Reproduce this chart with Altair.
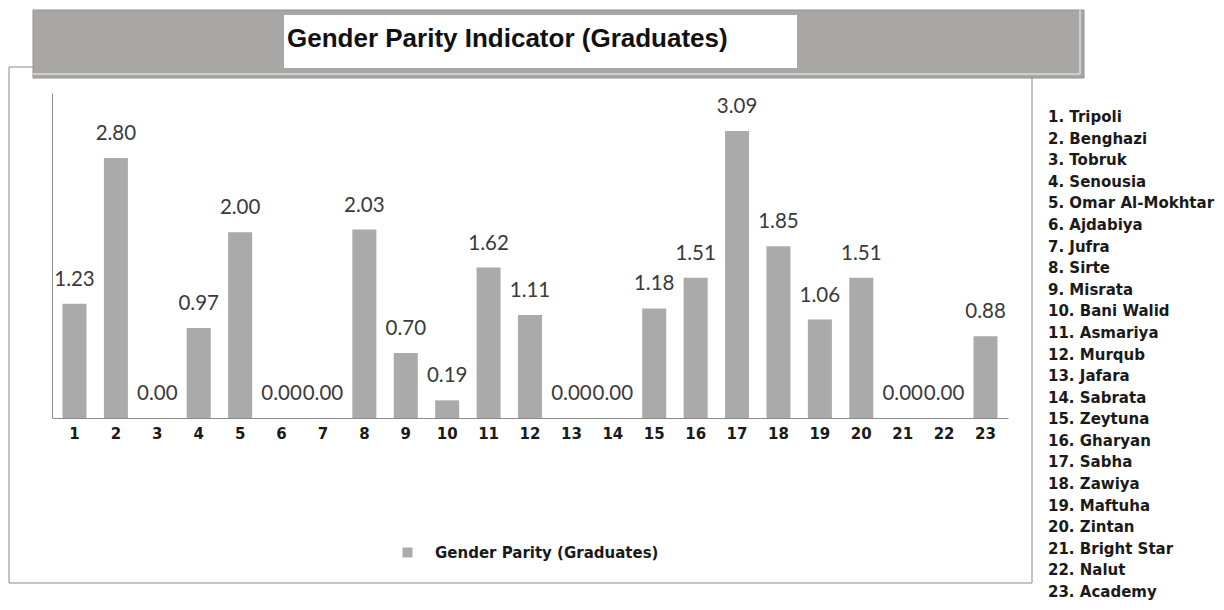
import altair as alt
import pandas as pd

# ---- data ----
codes = ["1", "2", "3", "4", "5", "6", "7", "8", "9", "10", "11", "12",
         "13", "14", "15", "16", "17", "18", "19", "20", "21", "22", "23"]
regions = ["Tripoli", "Benghazi", "Tobruk", "Senousia", "Omar Al-Mokhtar",
           "Ajdabiya", "Jufra", "Sirte", "Misrata", "Bani Walid", "Asmariya",
           "Murqub", "Jafara", "Sabrata", "Zeytuna", "Gharyan", "Sabha",
           "Zawiya", "Maftuha", "Zintan", "Bright Star", "Nalut", "Academy"]
parity = [1.23, 2.80, 0.00, 0.97, 2.00, 0.00, 0.00, 2.03, 0.70, 0.19, 1.62,
          1.11, 0.00, 0.00, 1.18, 1.51, 3.09, 1.85, 1.06, 1.51, 0.00, 0.00, 0.88]
series_name = "Gender Parity (Graduates)"
title_text = "Gender Parity Indicator (Graduates)"

list_labels = [f"{c}. {r}" for c, r in zip(codes, regions)]
df = pd.DataFrame({"code": codes, "parity": parity,
                   "series": [series_name] * len(codes),
                   "item": list_labels})
one = pd.DataFrame({"t": [title_text]})

BAR = "#aaaaaa"
BOLD_FONT = "DejaVu Sans"

# ---- decorations (frame, banner, title box) ----
frame = alt.Chart(one).mark_rect(fill="transparent", stroke="#8a8a8a", strokeWidth=1).encode(
    x=alt.value(-43), x2=alt.value(980), y=alt.value(-26), y2=alt.value(490))
banner = alt.Chart(one).mark_rect(fill="#a9a6a6", stroke="#929090", strokeWidth=1).encode(
    x=alt.value(-19), x2=alt.value(1032), y=alt.value(-83), y2=alt.value(-15))
bevel_b = alt.Chart(one).mark_rule(color="#cfcdcd", strokeWidth=2).encode(
    x=alt.value(-19), x2=alt.value(1028), y=alt.value(-19))
bevel_r = alt.Chart(one).mark_rule(color="#cfcdcd", strokeWidth=2).encode(
    x=alt.value(1028), y=alt.value(-83), y2=alt.value(-19))
title_box = alt.Chart(one).mark_rect(fill="white").encode(
    x=alt.value(232), x2=alt.value(745), y=alt.value(-78), y2=alt.value(-25))
title = alt.Chart(one).mark_text(align="left", baseline="alphabetic", font="Liberation Sans",
                                 fontSize=26, fontWeight="bold", color="#111111").encode(
    x=alt.value(235), y=alt.value(-46), text="t:N")

# ---- bars ----
x_enc = alt.X("code:N", sort=codes,
              scale=alt.Scale(paddingInner=0.42, paddingOuter=0.253),
              axis=alt.Axis(title=None, labelAngle=0, ticks=False, tickSize=0, labelPadding=8,
                            labelFont=BOLD_FONT, labelFontSize=15, labelFontWeight="bold",
                            labelColor="#1a1a1a", domainColor="#8c8c8c", grid=False))
y_enc = alt.Y("parity:Q", scale=alt.Scale(domain=[0, 3.5], nice=False),
              axis=alt.Axis(title=None, labels=False, ticks=False, grid=False,
                            domainColor="#8c8c8c"))

bars = alt.Chart(df).mark_bar().encode(
    x=x_enc, y=y_enc,
    color=alt.Color("series:N", scale=alt.Scale(range=[BAR]),
                    legend=alt.Legend(title=None, orient="none", legendX=348, legendY=452,
                                      symbolType="square", symbolSize=100, symbolStrokeWidth=0,
                                      labelFont=BOLD_FONT, labelFontSize=15, labelFontWeight="bold",
                                      labelColor="#1a1a1a", labelOffset=20, labelLimit=0,
                                      padding=0)))

values = alt.Chart(df).mark_text(dy=-24, baseline="middle", font="Lato", fontSize=20.5,
                                 color="#3a3a3a").encode(
    x=alt.X("code:N", sort=codes), y="parity:Q",
    text=alt.Text("parity:Q", format=".2f"))

# ---- region list on the right ----
region_list = alt.Chart(df).mark_text(align="left", baseline="middle", font=BOLD_FONT,
                                      fontSize=15, fontWeight="bold", color="#1a1a1a").encode(
    x=alt.value(996),
    y=alt.Y("item:N", sort=list_labels, scale=alt.Scale(range=[24, 499], padding=0), axis=None),
    text="item:N")

main = alt.layer(bars, values)

chart = alt.layer(frame, banner, bevel_b, bevel_r, title_box, title, main, region_list).resolve_scale(
    y="independent"
).properties(
    width=956, height=325,
    padding={"left": 44, "top": 85, "right": 208, "bottom": 184},
    autosize=alt.AutoSizeParams(type="none"),
    background="white"
).configure_view(stroke=None)

chart.save("out.html", embed_options={"renderer": "svg", "actions": False})
